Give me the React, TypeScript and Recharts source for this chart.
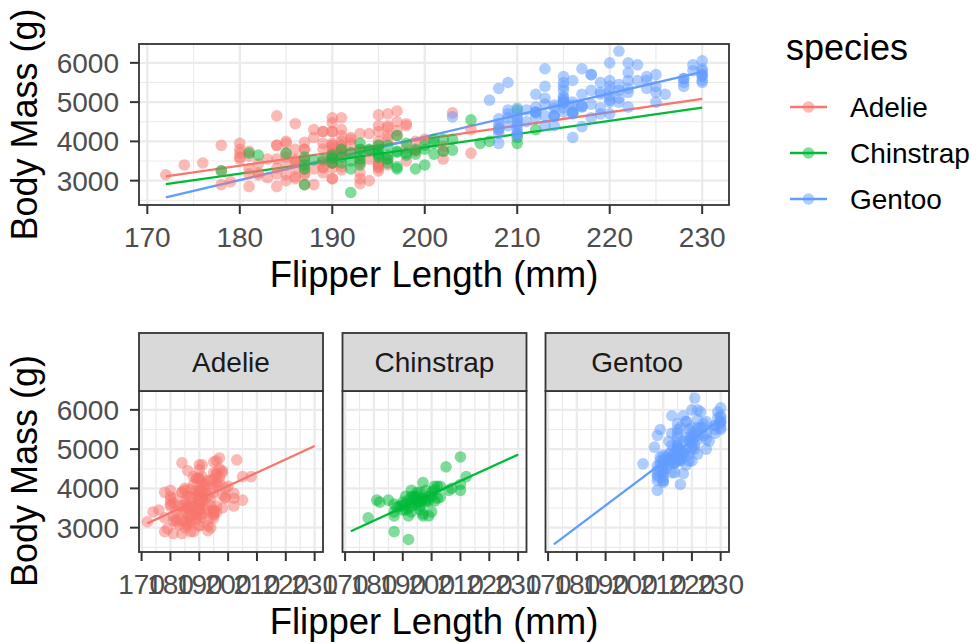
import { CartesianGrid, ReferenceLine, Scatter, ScatterChart, XAxis, YAxis } from "recharts"

const flipperTicks = [170, 180, 190, 200, 210, 220, 230]
const flipperMinor = [175, 185, 195, 205, 215, 225]
const massTicks = [3000, 4000, 5000, 6000]
const massMinor = [2500, 3500, 4500, 5500]
const speciesNames = ["Adelie", "Chinstrap", "Gentoo"]
const speciesColors = ["#F8766D", "#00BA38", "#619CFF"]

// [flipper length mm, body mass g]
const adelie: [number, number][] = [
  [181, 3750], [186, 3800], [195, 3250], [193, 3450], [190, 3650], [181, 3625], [195, 4675], [193, 3475],
  [190, 4250], [186, 3300], [180, 3700], [182, 3200], [191, 3800], [198, 4400], [185, 3700], [195, 3450],
  [197, 4500], [184, 3325], [194, 4200], [174, 3400], [180, 3600], [189, 3800], [185, 3950], [180, 3800],
  [187, 3800], [183, 3550], [187, 3200], [172, 3150], [180, 3950], [178, 3250], [178, 3900], [188, 3300],
  [184, 3900], [195, 3325], [196, 4150], [190, 3950], [180, 3550], [181, 3300], [184, 4650], [182, 3150],
  [195, 3900], [186, 3100], [196, 4400], [185, 3000], [190, 4600], [182, 3425], [179, 2975], [190, 3450],
  [191, 4150], [186, 3500], [188, 4300], [190, 3450], [200, 4050], [187, 2900], [191, 3700], [186, 3550],
  [193, 3800], [181, 2850], [194, 3750], [185, 3150], [195, 4400], [185, 3600], [192, 4050], [184, 2850],
  [192, 3950], [195, 3350], [188, 4100], [190, 3050], [198, 4450], [190, 3600], [190, 3900], [196, 3550],
  [197, 4150], [190, 3700], [195, 4250], [191, 3700], [184, 3900], [187, 3550], [195, 4000], [189, 3200],
  [196, 4700], [187, 3800], [193, 4200], [191, 3350], [194, 3550], [190, 3800], [189, 3500], [189, 3950],
  [190, 3600], [202, 3550], [205, 4300], [185, 3400], [186, 4450], [187, 3300], [208, 4300], [190, 3700],
  [196, 4350], [178, 2900], [192, 4100], [192, 3725], [203, 4725], [183, 3075], [190, 4250], [193, 2925],
  [184, 3550], [199, 3750], [190, 3900], [181, 3175], [197, 4775], [198, 3825], [191, 4600], [193, 3200],
  [197, 4275], [191, 3900], [196, 4075], [188, 2900], [199, 3775], [189, 3350], [189, 3325], [187, 3150],
  [198, 3500], [176, 3450], [202, 3875], [186, 3050], [199, 4000], [191, 3275], [191, 4300], [190, 3050],
  [191, 4000], [190, 3325], [186, 3500], [190, 3500], [190, 4475], [195, 3425], [191, 3900], [184, 3175],
  [187, 3975], [195, 3400], [189, 4250], [196, 3400], [187, 3475], [193, 3050], [191, 3725], [194, 3000],
  [190, 3650], [189, 4250], [189, 3475], [190, 3450], [202, 3750], [205, 3700], [185, 4000],
]

const chinstrap: [number, number][] = [
  [178, 3250], [181, 3700], [182, 3650], [185, 3700], [187, 2900], [187, 3300], [187, 3600], [187, 3400],
  [188, 3525], [189, 3550], [190, 3450], [190, 3575], [190, 3650], [191, 3600], [191, 3800], [191, 3450],
  [192, 2700], [192, 3500], [192, 3700], [193, 3650], [193, 3800], [193, 3400], [193, 3950], [194, 3775],
  [194, 3800], [195, 3650], [195, 3800], [195, 3900], [195, 3700], [196, 3550], [196, 3650], [196, 3900],
  [196, 3450], [197, 3300], [197, 3725], [197, 3750], [197, 4150], [197, 3350], [198, 3700], [198, 3950],
  [198, 3650], [199, 3300], [199, 3675], [199, 3800], [200, 3400], [200, 3900], [200, 3800], [201, 3675],
  [201, 4050], [201, 3950], [202, 3750], [202, 4050], [203, 4050], [203, 3775], [205, 4550], [206, 3950],
  [207, 4000], [210, 4800], [210, 3950], [210, 4100], [212, 4300], [193, 3550], [195, 3600], [192, 3300],
]

const gentoo: [number, number][] = [
  [211, 4500], [230, 5700], [210, 4450], [218, 5700], [215, 5400], [210, 4550], [211, 4800], [219, 5200],
  [209, 4400], [215, 5150], [214, 4650], [216, 5550], [214, 4650], [213, 5850], [210, 4200], [217, 5850],
  [210, 4150], [221, 6300], [209, 4800], [222, 5350], [218, 5700], [215, 5000], [213, 4400], [215, 5050],
  [215, 5000], [215, 5100], [216, 4100], [215, 5650], [210, 4600], [220, 5550], [222, 5250], [209, 4700],
  [207, 5050], [230, 6050], [220, 5150], [220, 5400], [213, 4950], [219, 5250], [208, 4350], [208, 5350],
  [208, 3950], [225, 5700], [210, 4300], [216, 4750], [222, 5550], [217, 4900], [210, 4200], [225, 5400],
  [213, 5100], [215, 5300], [210, 4850], [220, 5300], [210, 4400], [225, 5000], [217, 4900], [220, 5050],
  [208, 4300], [220, 5000], [208, 4450], [224, 5550], [208, 4200], [221, 5300], [214, 4400], [230, 5650],
  [219, 4700], [230, 5700], [214, 4650], [229, 5800], [220, 4700], [223, 5550], [216, 4750], [221, 5000],
  [221, 5100], [217, 5200], [216, 4700], [230, 5800], [209, 4600], [220, 6000], [215, 4750], [223, 5950],
  [212, 4625], [221, 5450], [212, 4725], [224, 5350], [212, 4750], [228, 5600], [218, 4600], [218, 5300],
  [212, 4875], [230, 5550], [218, 4950], [228, 5400], [212, 4750], [224, 5650], [214, 4850], [226, 5200],
  [216, 4925], [222, 4875], [203, 4625], [225, 5250], [219, 4850], [228, 5600], [215, 4975], [228, 5500],
  [216, 4725], [215, 5500], [210, 4700], [219, 5500], [208, 4575], [209, 5500], [216, 5000], [229, 5950],
  [213, 4650], [230, 5500], [217, 4375], [230, 5850], [217, 4875], [222, 6000], [214, 4925], [215, 4850],
  [222, 5750], [212, 5200], [213, 5400],
]

// fitted lines, read at both ends of the flipper range
const fitFlipper = [172, 230]
const fitAdelie = [3110, 5080]
const fitChinstrap = [2910, 4860]
const fitGentoo = [2575, 5770]

const speciesPoints = [adelie, chinstrap, gentoo]
const speciesFits = [fitAdelie, fitChinstrap, fitGentoo]

const xDomain: [number, number] = [169.1, 232.9]
const yDomain: [number, number] = [2380, 6480]
const FONT = "'Liberation Sans', Arial, sans-serif"
const GRID = "#EBEBEB"
const DARK = "#333333"

const toXY = (pts: [number, number][]) => pts.map(([x, y]) => ({ x, y }))

const dot = (color: string) => (props: any) => (
  <circle cx={props.cx} cy={props.cy} r={5.8} fill={color} fillOpacity={0.5} />
)

const tickStyle = { fill: "#4D4D4D", fontSize: 28, fontFamily: FONT }

type PanelProps = {
  left: number
  right: number
  top: number
  bottom: number
  height: number
  showY: boolean
  which: number[]
}

const Panel = ({ left, right, top, bottom, height, showY, which }: PanelProps) => (
  <div style={{ position: "absolute", left: 0, top: 0 }}>
    <ScatterChart
      width={976}
      height={height}
      margin={{ top, right: 976 - right, bottom: height - bottom - 60, left: showY ? 0 : left }}
    >
      <CartesianGrid
        stroke={GRID}
        strokeWidth={1.2}
        verticalValues={flipperMinor}
        horizontalValues={massMinor}
      />
      <CartesianGrid
        stroke={GRID}
        strokeWidth={2.4}
        verticalValues={flipperTicks}
        horizontalValues={massTicks}
      />
      <XAxis
        type="number"
        dataKey="x"
        domain={xDomain}
        allowDataOverflow
        ticks={flipperTicks}
        interval={0}
        height={60}
        axisLine={false}
        tickLine={{ stroke: DARK, strokeWidth: 2 }}
        tickSize={9}
        tickMargin={13}
        tick={tickStyle}
      />
      <YAxis
        type="number"
        dataKey="y"
        domain={yDomain}
        allowDataOverflow
        ticks={massTicks}
        interval={0}
        width={left}
        hide={!showY}
        axisLine={false}
        tickLine={{ stroke: DARK, strokeWidth: 2 }}
        tickSize={9}
        tickMargin={11}
        tick={tickStyle}
      />
      {which.map((i) => (
        <Scatter
          key={speciesNames[i]}
          name={speciesNames[i]}
          data={toXY(speciesPoints[i])}
          shape={dot(speciesColors[i])}
          isAnimationActive={false}
        />
      ))}
      {which.map((i) => (
        <ReferenceLine
          key={"fit" + i}
          segment={[
            { x: fitFlipper[0], y: speciesFits[i][0] },
            { x: fitFlipper[1], y: speciesFits[i][1] },
          ]}
          stroke={speciesColors[i]}
          strokeWidth={2.3}
          ifOverflow="visible"
        />
      ))}
    </ScatterChart>
  </div>
)

const facetLefts = [139, 342.5, 545.5]
const facetRights = [323, 526.5, 729]

export default function App() {
  return (
    <div style={{ position: "absolute", left: 0, top: 0, width: 976, height: 643, background: "#fff", fontFamily: FONT }}>
      <Panel left={139} right={729} top={44} bottom={205} height={300} showY which={[0, 1, 2]} />
      {[0, 1, 2].map((i) => (
        <Panel
          key={i}
          left={facetLefts[i]}
          right={facetRights[i]}
          top={391}
          bottom={552}
          height={643}
          showY={i === 0}
          which={[i]}
        />
      ))}
      <svg width={976} height={643} style={{ position: "absolute", left: 0, top: 0, pointerEvents: "none" }}>
        <rect x={139} y={44} width={590} height={161} fill="none" stroke={DARK} strokeWidth={1.8} />
        {[0, 1, 2].map((i) => (
          <g key={i}>
            <rect x={facetLefts[i]} y={391} width={facetRights[i] - facetLefts[i]} height={161} fill="none" stroke={DARK} strokeWidth={1.8} />
            <rect x={facetLefts[i]} y={333} width={facetRights[i] - facetLefts[i]} height={58} fill="#D9D9D9" stroke={DARK} strokeWidth={1.8} />
            <text x={(facetLefts[i] + facetRights[i]) / 2} y={372} textAnchor="middle" fontSize={28} fill="#1A1A1A" fontFamily={FONT}>
              {speciesNames[i]}
            </text>
          </g>
        ))}
        <text x={434} y={287} textAnchor="middle" fontSize={36.5} fill="#000" fontFamily={FONT}>Flipper Length (mm)</text>
        <text x={434} y={634} textAnchor="middle" fontSize={36.5} fill="#000" fontFamily={FONT}>Flipper Length (mm)</text>
        <text transform="translate(37,124.5) rotate(-90)" textAnchor="middle" fontSize={36} fill="#000" fontFamily={FONT}>Body Mass (g)</text>
        <text transform="translate(37,471) rotate(-90)" textAnchor="middle" fontSize={36} fill="#000" fontFamily={FONT}>Body Mass (g)</text>
        <text x={786} y={60} fontSize={36} fill="#000" fontFamily={FONT}>species</text>
        {[0, 1, 2].map((i) => (
          <g key={"lg" + i}>
            <line x1={790} x2={827} y1={107 + i * 46} y2={107 + i * 46} stroke={speciesColors[i]} strokeWidth={2.6} />
            <circle cx={808.5} cy={107 + i * 46} r={5.8} fill={speciesColors[i]} fillOpacity={0.5} />
            <text x={850} y={117 + i * 46} fontSize={28} fill="#000" fontFamily={FONT}>{speciesNames[i]}</text>
          </g>
        ))}
      </svg>
    </div>
  )
}
